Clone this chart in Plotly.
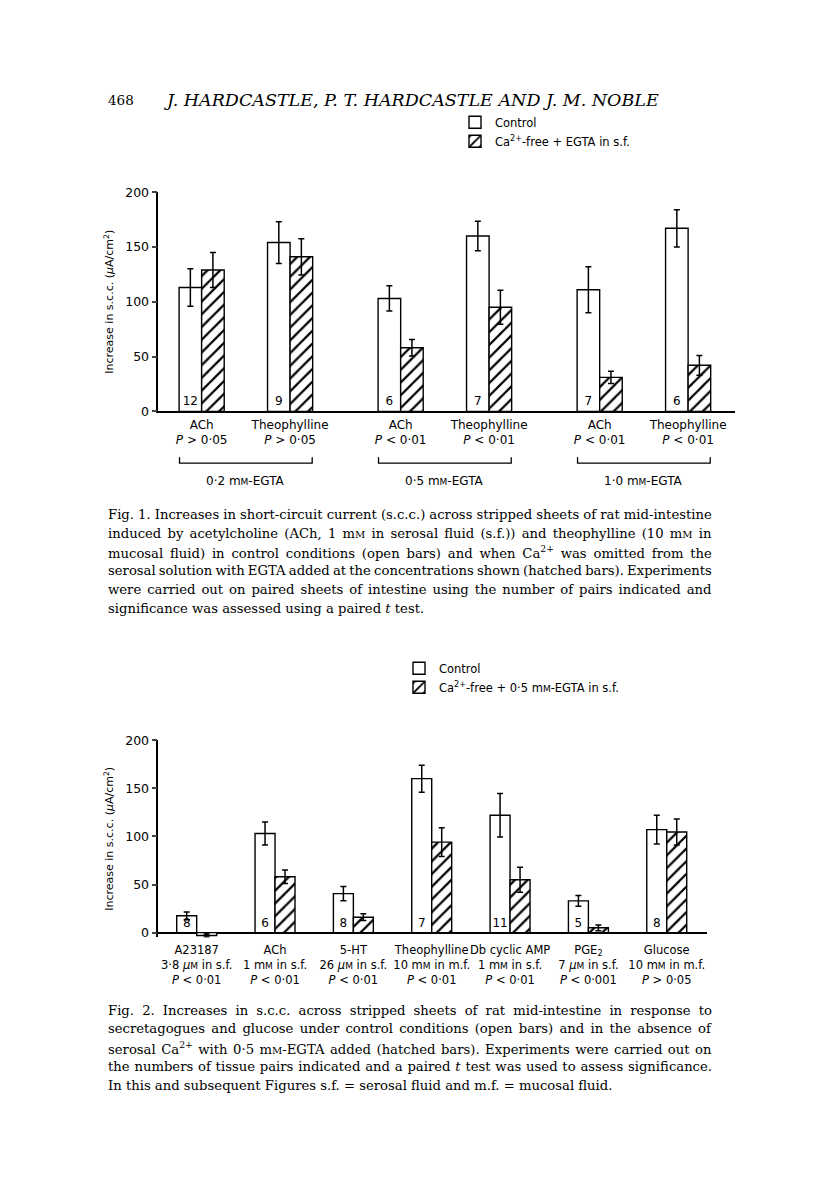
import json
import plotly.graph_objects as go

# ---------------- Data: Fig. 1 ----------------
f1_names = ["ACh", "Theophylline", "ACh", "Theophylline", "ACh", "Theophylline"]
f1_group = [0, 0, 1, 1, 2, 2]
f1_within = [0, 1, 0, 1, 0, 1]
f1_p = ["> 0·05", "> 0·05", "< 0·01", "< 0·01", "< 0·01", "< 0·01"]
f1_ctrl = [113, 154, 103, 160, 111, 167]
f1_ctrl_se = [17, 19, 11.5, 13.5, 21, 17]
f1_ca = [129, 141, 58, 95, 31, 42]
f1_ca_se = [16, 16.5, 7.5, 15.5, 5.5, 9]
f1_n = ["12", "9", "6", "7", "7", "6"]
f1_groups = ["0·2 mM-EGTA", "0·5 mM-EGTA", "1·0 mM-EGTA"]

# ---------------- Data: Fig. 2 ----------------
f2_names = ["A23187", "ACh", "5-HT", "Theophylline", "Db cyclic AMP", "PGE<sub>2</sub>", "Glucose"]
f2_dose = ["3·8 <i>μ</i>M in s.f.", "1 mM in s.f.", "26 <i>μ</i>M in s.f.", "10 mM in m.f.",
           "1 mM in s.f.", "7 <i>μ</i>M in s.f.", "10 mM in m.f."]
f2_p = ["< 0·01", "< 0·01", "< 0·01", "< 0·01", "< 0·01", "< 0·001", "> 0·05"]
f2_ctrl = [17.5, 103, 40.5, 160, 122, 33, 107]
f2_ctrl_se = [4, 12, 7.5, 14, 22.5, 5.7, 15]
f2_ca = [-3, 58, 16, 94, 55, 5, 104.5]
f2_ca_se = [1.5, 7, 3.5, 15, 13, 3, 13.5]
f2_n = ["8", "6", "8", "7", "11", "5", "8"]

W, H = 816, 1191
SMALLM = "<span style='font-size:9px'>M</span>"


def sc(s, small=SMALLM):
    return s.replace("mM", "m" + small).replace("</i>M", "</i>" + small)


def px(p):
    return p / W


def py(p):
    return 1 - p / H


SANS = "DejaVu Sans"
SERIF = "DejaVu Serif"
GROUP_STEP = 2.25

f1_x = [g * GROUP_STEP + w for g, w in zip(f1_group, f1_within)]
f1_ticktext = [f"{n}<br><i>P</i> {p}" for n, p in zip(f1_names, f1_p)]
f2_ticktext = [f"{n}<br>{sc(d)}<br><i>P</i> {p}" for n, d, p in zip(f2_names, f2_dose, f2_p)]

fig = go.Figure()

line_style = dict(color="black", width=1.4)
err_style = dict(type="data", visible=True, color="black", thickness=1.5, width=3)
hatch = dict(shape="/", fgcolor="black", bgcolor="white", fgopacity=1, size=9, solidity=0.25)

fig.add_trace(go.Bar(
    x=f1_x, y=f1_ctrl, error_y=dict(array=f1_ctrl_se, **err_style),
    marker=dict(color="white", line=line_style), name="Control",
    text=f1_n, textposition="inside", insidetextanchor="start", textangle=0,
    constraintext="none", textfont=dict(family=SANS, size=12, color="black"),
    offsetgroup="c", legend="legend", xaxis="x", yaxis="y"))
fig.add_trace(go.Bar(
    x=f1_x, y=f1_ca, error_y=dict(array=f1_ca_se, **err_style),
    marker=dict(color="white", line=line_style, pattern=hatch),
    name="Ca<sup>2+</sup>-free + EGTA in s.f.",
    offsetgroup="h", legend="legend", xaxis="x", yaxis="y"))

fig.add_trace(go.Bar(
    x=f2_names, y=f2_ctrl, error_y=dict(array=f2_ctrl_se, **err_style),
    marker=dict(color="white", line=line_style), name="Control",
    text=f2_n, textposition="inside", insidetextanchor="start", textangle=0,
    constraintext="none", textfont=dict(family=SANS, size=12, color="black"),
    offsetgroup="c", legend="legend2", xaxis="x2", yaxis="y2"))
fig.add_trace(go.Bar(
    x=f2_names, y=f2_ca, error_y=dict(array=f2_ca_se, **err_style),
    marker=dict(color="white", line=line_style, pattern=hatch),
    name="Ca<sup>2+</sup>-free + 0·5 " + sc("mM") + "-EGTA in s.f.",
    offsetgroup="h", legend="legend2", xaxis="x2", yaxis="y2"))

common = dict(showgrid=False, linecolor="black", linewidth=1.5)
xfont = dict(family=SANS, size=12, color="black")
yfont = dict(family=SANS, size=12.5, color="black")
ytitle = dict(text="Increase in s.c.c. (<i>μ</i>A/cm<sup>2</sup>)",
              font=dict(family=SANS, size=11), standoff=9)

fig.update_layout(
    width=W, height=H, margin=dict(l=0, r=0, t=0, b=0),
    paper_bgcolor="white", plot_bgcolor="white",
    barmode="group", bargap=0.49, bargroupgap=0,
    font=dict(family=SANS, color="black"),
    xaxis=dict(domain=[px(158.3), px(735)], range=[-0.49, 6.03], anchor="y",
               showline=True, ticks="", tickvals=f1_x, ticktext=f1_ticktext,
               tickangle=0, zeroline=False, tickfont=xfont, ticklabelstandoff=1, **common),
    yaxis=dict(domain=[py(408.5), py(186.5)], range=[0, 200], anchor="x",
               showline=True, ticks="outside", ticklen=5, tickwidth=1.5,
               tickvals=[0, 50, 100, 150, 200], zeroline=False,
               title=ytitle, tickfont=yfont, **common),
    xaxis2=dict(domain=[px(158.3), px(706.7)], range=[-0.49, 6.51], anchor="y2",
                type="category", showline=False, ticks="", tickangle=0,
                tickvals=f2_names, ticktext=f2_ticktext, ticklabelstandoff=4,
                tickfont=dict(family=SANS, size=11.5, color="black"), **common),
    yaxis2=dict(domain=[py(941.3), py(741.5)], range=[-5, 200], anchor="x2",
                showline=True, ticks="outside", ticklen=5, tickwidth=1.5,
                tickvals=[0, 50, 100, 150, 200],
                zeroline=True, zerolinecolor="black", zerolinewidth=1.5,
                title=ytitle, tickfont=yfont, **common),
    legend=dict(x=px(455), y=py(101), xanchor="left", yanchor="top",
                font=dict(family=SANS, size=11.5, color="black"),
                bgcolor="rgba(0,0,0,0)", traceorder="normal"),
    legend2=dict(x=px(399), y=py(654), xanchor="left", yanchor="top",
                 font=dict(family=SANS, size=11.5, color="black"),
                 bgcolor="rgba(0,0,0,0)", traceorder="normal"),
)

annotations = []
shapes = []

# Group brackets and labels for Fig. 1
half = 0.25
for gi, glabel in enumerate(f1_groups):
    xs = [x for x, g in zip(f1_x, f1_group) if g == gi]
    x0, x1 = min(xs) - half, max(xs) + half
    shapes.append(dict(type="path", xref="x", yref="paper",
                       path=f"M {x0},{py(455)} L {x0},{py(461)} L {x1},{py(461)} L {x1},{py(455)}",
                       line=dict(color="black", width=1.3)))
    annotations.append(dict(x=(x0 + x1) / 2, y=py(479), xref="x", yref="paper",
                            yanchor="middle", text=sc(glabel), showarrow=False,
                            font=dict(family=SANS, size=12, color="black")))

# Header
annotations.append(dict(x=px(106), y=py(93), xref="paper", yref="paper",
                        xanchor="left", yanchor="middle",
                        text="468", showarrow=False,
                        font=dict(family=SERIF, size=13.5, color="black")))
annotations.append(dict(x=px(162), y=py(93), xref="paper", yref="paper",
                        xanchor="left", yanchor="middle",
                        text="<i>J. HARDCASTLE, P. T. HARDCASTLE AND J. M. NOBLE</i>",
                        showarrow=False, font=dict(family=SERIF, size=17.5, color="black")))

cap1 = [
    "Fig. 1. Increases in short-circuit current (s.c.c.) across stripped sheets of rat mid-intestine",
    "induced by acetylcholine (ACh, 1 mM in serosal fluid (s.f.)) and theophylline (10 mM in",
    "mucosal fluid) in control conditions (open bars) and when Ca<sup>2+</sup> was omitted from the",
    "serosal solution with EGTA added at the concentrations shown (hatched bars). Experiments",
    "were carried out on paired sheets of intestine using the number of pairs indicated and",
    "significance was assessed using a paired <i>t</i> test.",
]
cap2 = [
    "Fig. 2. Increases in s.c.c. across stripped sheets of rat mid-intestine in response to",
    "secretagogues and glucose under control conditions (open bars) and in the absence of",
    "serosal Ca<sup>2+</sup> with 0·5 mM-EGTA added (hatched bars). Experiments were carried out on",
    "the numbers of tissue pairs indicated and a paired <i>t</i> test was used to assess significance.",
    "In this and subsequent Figures s.f. = serosal fluid and m.f. = mucosal fluid.",
]
CAP_SMALLM = "<span style='font-size:10px'>M</span>"
justify_idx = []
for lines, y0 in ((cap1, 513), (cap2, 1015)):
    for i, t in enumerate(lines):
        if i < len(lines) - 1:
            justify_idx.append(len(annotations))
        annotations.append(dict(x=px(106), y=py(y0 + 19 * i), xref="paper", yref="paper",
                                xanchor="left", yanchor="middle", align="left",
                                text=sc(t, CAP_SMALLM), showarrow=False,
                                font=dict(family=SERIF, size=13.2, color="black")))

fig.update_layout(annotations=annotations, shapes=shapes)

post = """
document.body.style.margin='0';document.body.style.padding='0';
var gd = document.getElementById('{plot_id}');
var idx = %s;
var RIGHT = 712;
idx.forEach(function(k){
  var t = gd.querySelector('.annotation[data-index="' + k + '"] text.annotation-text');
  if (!t) return;
  var r = t.getBoundingClientRect();
  var n = (t.textContent.match(/ /g) || []).length;
  if (n > 0) { t.style.wordSpacing = ((RIGHT - r.right) / n) + 'px'; }
});
""" % json.dumps(justify_idx)

fig.write_html("out.html", config={"displayModeBar": False}, post_script=post)
